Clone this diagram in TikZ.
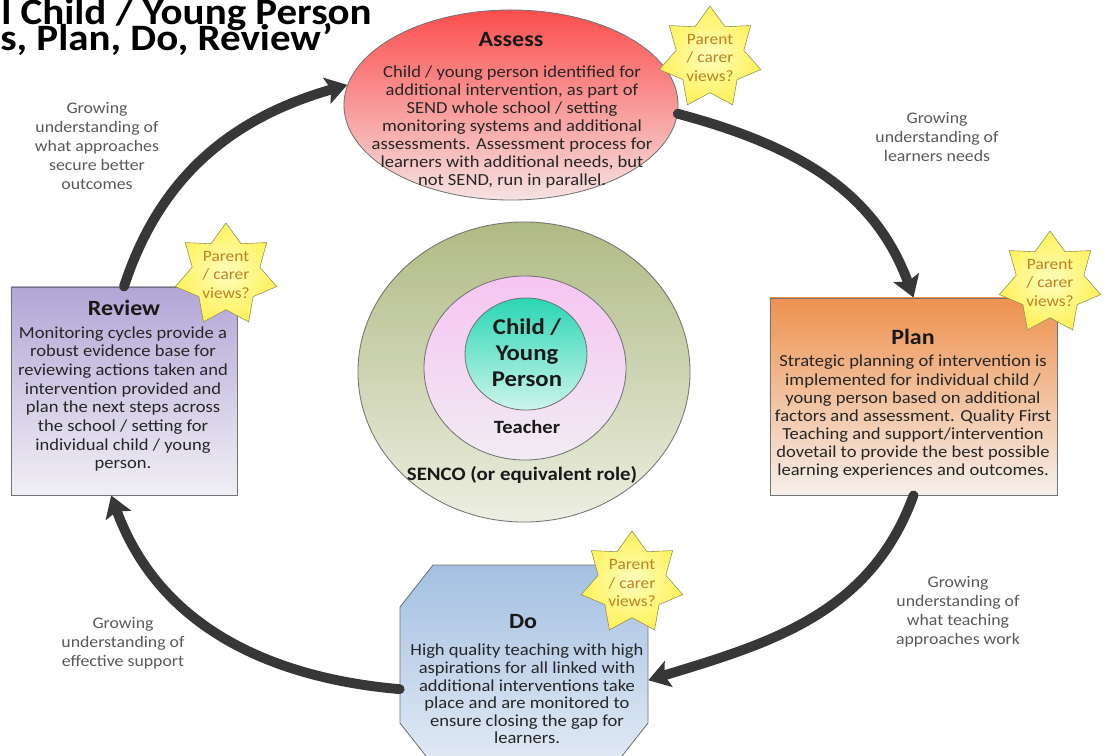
\documentclass[tikz,border=0pt]{standalone}
\usepackage{fontspec}
\setmainfont{Carlito}[FakeStretch=1.1]
\usetikzlibrary{arrows.meta,positioning}
\usetikzlibrary{shapes.geometric}

\definecolor{arrowgray}{RGB}{55,55,55}
\definecolor{assesstop}{RGB}{252,78,78}
\definecolor{assessbot}{RGB}{246,226,226}
\definecolor{reviewtop}{RGB}{178,166,214}
\definecolor{reviewbot}{RGB}{241,239,245}
\definecolor{plantop}{RGB}{238,146,78}
\definecolor{planbot}{RGB}{246,239,236}
\definecolor{dotop}{RGB}{164,192,226}
\definecolor{dobot}{RGB}{226,234,244}
\definecolor{sencotop}{RGB}{176,186,132}
\definecolor{sencobot}{RGB}{236,239,226}
\definecolor{teachertop}{RGB}{246,196,242}
\definecolor{teacherbot}{RGB}{241,236,243}
\definecolor{childtop}{RGB}{42,214,180}
\definecolor{childbot}{RGB}{204,245,236}
\definecolor{starinner}{RGB}{255,253,190}
\definecolor{starouter}{RGB}{255,242,90}
\definecolor{starword}{RGB}{188,132,32}

\begin{document}
\begin{tikzpicture}[x=0.025cm,y=0.025cm,
  shapebox/.style={draw=black!55,line width=0.6pt,inner sep=0pt},
  headtext/.style={font=\fontsize{15.5}{18}\selectfont\bfseries,text=black!90},
  bodytext/.style={align=center,font=\fontsize{12}{12.9}\selectfont,text=black!85},
  growlabel/.style={align=center,font=\fontsize{11.5}{13.5}\selectfont,text=black!65},
  ringtext/.style={align=center,font=\fontsize{13.5}{16}\selectfont\bfseries,text=black!90},
  titletext/.style={font=\fontsize{26.5}{26}\selectfont\bfseries,inner sep=0pt},
  parentstar/.style={star,star points=7,star point ratio=1.5,minimum size=2.6cm,
    inner sep=0pt,draw=black!40!olive!70,inner color=starinner,outer color=starouter},
  startext/.style={align=center,font=\fontsize{11.2}{13.5}\selectfont,text=starword},
  cyclearrow/.style={draw=arrowgray,line width=7pt,line cap=round,
    -{Stealth[length=15pt,width=19pt,inset=3pt]}}]

\useasboundingbox (0,0) rectangle (1105,-756);

% title, cut at the left edge
\node[titletext,anchor=base west] (titleone) at (1,-24) {l Child / Young Person};
\node[titletext,anchor=base west] (titletwo) at (0,-50) {s, Plan, Do, Review’};

% centre rings
\node[shapebox,ellipse,minimum width=8.3cm,minimum height=7.5cm,
  top color=sencotop,bottom color=sencobot] (senco) at (524,-372) {};
\node[shapebox,ellipse,minimum width=5.05cm,minimum height=4.6cm,
  top color=teachertop,bottom color=teacherbot] (teacher) at (525,-368) {};
\node[shapebox,ellipse,minimum width=3.05cm,minimum height=2.8cm,
  top color=childtop,bottom color=childbot] (child) at (526,-354) {};
\node[ringtext,font=\fontsize{16}{18.5}\selectfont\bfseries] (childtxt) at (527,-353) {Child /\\Young\\Person};
\node[ringtext,font=\fontsize{13.3}{16}\selectfont\bfseries] (teachertxt) at (527,-427) {Teacher};
\node[ringtext] (sencotxt) at (522,-475) {SENCO (or equivalent role)};

% the four stages
\node[shapebox,ellipse,minimum width=8.35cm,minimum height=4.75cm,
  top color=assesstop,bottom color=assessbot] (assess) at (511,-105) {};
\node[headtext] (assesshead) at (511,-40) {Assess};
\node[bodytext] (assessbody) at (512,-127) {Child / young person identified for\\
  additional intervention, as part of\\SEND whole school / setting\\
  monitoring systems and additional\\assessments. Assessment process for\\
  learners with additional needs, but\\not SEND, run in parallel.};

\node[shapebox,rectangle,minimum width=7.175cm,minimum height=4.925cm,
  top color=plantop,bottom color=planbot] (plan) at (913.5,-396.5) {};
\node[headtext] (planhead) at (913,-337) {Plan};
\node[bodytext] (planbody) at (913,-417) {Strategic planning of intervention is\\
  implemented for individual child /\\young person based on additional\\
  factors and assessment. Quality First\\Teaching and support/intervention\\
  dovetail to provide the best possible\\learning experiences and outcomes.};

% octagon for Do, the node only gives the anchors
\node[inner sep=0pt,minimum width=6.2cm,minimum height=5cm] (do) at (524,-665) {};
\shade[top color=dotop,bottom color=dobot,draw=black!55,line width=0.6pt]
  (433,-565) -- (615,-565) -- (648,-607) -- (648,-723) -- (615,-765)
  -- (433,-765) -- (400,-723) -- (400,-607) -- cycle;
\node[headtext] (dohead) at (523,-622) {Do};
\node[bodytext,font=\fontsize{12}{12.5}\selectfont] (dobody) at (527,-694) {High quality teaching with high\\
  aspirations for all linked with\\additional interventions take\\
  place and are monitored to\\ensure closing the gap for\\learners.};

\node[shapebox,rectangle,minimum width=5.65cm,minimum height=5.2cm,
  top color=reviewtop,bottom color=reviewbot] (review) at (124,-391) {};
\node[headtext] (reviewhead) at (124,-308) {Review};
\node[bodytext,font=\fontsize{12}{13.3}\selectfont] (reviewbody) at (123,-399) {Monitoring cycles provide a\\
  robust evidence base for\\reviewing actions taken and\\intervention provided and\\
  plan the next steps across\\the school / setting for\\individual child / young\\person.};

% parent / carer stars
\foreach \nm/\px/\py in {assess/710/58, review/226/275, plan/1050/283, do/632/583}{
  \node[parentstar] (\nm star) at (\px,-\py) {};
  \node[startext] (\nm startxt) at (\px,-\py) {Parent\\/ carer\\views?};
}

% cycle arrows
\draw[cyclearrow] (review.north) to[out=72,in=196] (assess.173);
\draw[cyclearrow] (assess.-3) to[out=-15,in=110] (plan.north);
\draw[cyclearrow] (plan.south) to[out=-110,in=17] (do.-7);
\draw[cyclearrow] (do.191) to[out=175,in=-70] (review.263.5);

% labels on the arrows
\node[growlabel] (growa) at (97,-146) {Growing\\understanding of\\what approaches\\secure better\\outcomes};
\node[growlabel] (growb) at (937,-137) {Growing\\understanding of\\learners needs};
\node[growlabel] (growc) at (958,-612) {Growing\\understanding of\\what teaching\\approaches work};
\node[growlabel] (growd) at (123,-643) {Growing\\understanding of\\effective support};

\end{tikzpicture}
\end{document}
